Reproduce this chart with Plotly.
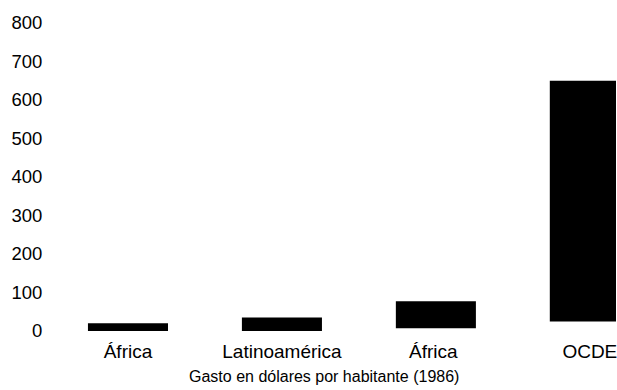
import plotly.graph_objects as go

categories = ["África", "Latinoamérica", "África ", "OCDE"]
bar_tops = [20, 35, 77, 650]
bar_bases = [0, 0, 7, 25]
y_ticks = [0, 100, 200, 300, 400, 500, 600, 700, 800]
x_title = "Gasto en dólares por habitante (1986)"

heights = [t - b for t, b in zip(bar_tops, bar_bases)]

fig = go.Figure(go.Bar(
    x=categories, y=heights, base=bar_bases,
    marker=dict(color="black", line=dict(width=0)),
    width=0.52,
))

font = "Liberation Sans, Arial, sans-serif"
fig.update_layout(
    width=617, height=390,
    margin=dict(l=51, r=1, t=23, b=58.5),
    paper_bgcolor="white", plot_bgcolor="white",
    showlegend=False,
    font=dict(family=font, color="black", size=18),
    xaxis=dict(
        range=[-0.5, 3.17], showgrid=False, zeroline=False, showline=False,
        ticks="outside", ticklen=3, tickcolor="rgba(0,0,0,0)",
        tickfont=dict(size=19, family=font),
    ),
    yaxis=dict(
        range=[0, 800], tickvals=y_ticks, showgrid=False, zeroline=False,
        showline=False, ticks="outside", ticklen=4, tickcolor="rgba(0,0,0,0)",
        tickfont=dict(size=18.5, family=font),
    ),
    annotations=[dict(
        text=x_title, xref="paper", yref="paper", x=(324 - 51) / 565, y=-0.148,
        xanchor="center", yanchor="middle", showarrow=False,
        font=dict(size=16, family=font),
    )],
)

fig.write_html(
    "out.html",
    config={"displayModeBar": False},
    post_script="document.body.style.margin='0';document.body.style.overflow='hidden';",
)
